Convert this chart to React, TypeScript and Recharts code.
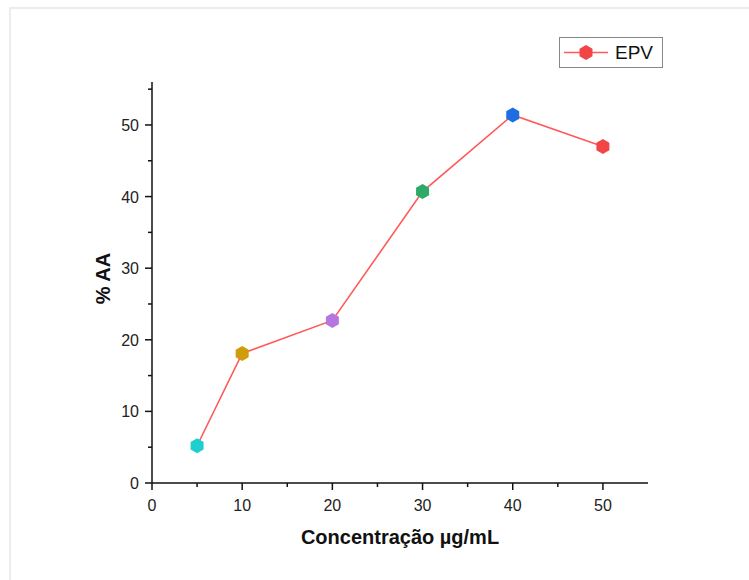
import { LineChart, Line, XAxis, YAxis, Label } from "recharts";

const concentrations = [5, 10, 20, 30, 40, 50];
const aaValues = [5.2, 18.1, 22.7, 40.7, 51.4, 47.0];
const pointColors = ["#1fcfcf", "#cf9d0a", "#b477e0", "#2fa968", "#1c6ee2", "#f24646"];
const xTicks = [0, 5, 10, 15, 20, 25, 30, 35, 40, 45, 50];
const yTicks = [0, 5, 10, 15, 20, 25, 30, 35, 40, 45, 50, 55];
const seriesName = "EPV";
const xTitle = "Concentração µg/mL";
const yTitle = "% AA";

const data = concentrations.map((c, i) => ({ x: c, y: aaValues[i] }));

const FONT = '"Liberation Sans", Arial, sans-serif';
const LINE_RED = "#ff5a5a";

const hexPoints = (cx: number, cy: number, r: number) => {
	const pts: string[] = [];
	for (let k = 0; k < 6; k++) {
		const a = (Math.PI / 3) * k - Math.PI / 2;
		pts.push(`${cx + r * Math.cos(a)},${cy + r * Math.sin(a)}`);
	}
	return pts.join(" ");
};

const HexDot = (props: any) => {
	const { cx, cy, index } = props;
	if (cx == null || cy == null) return <g key={`d${index}`} />;
	return (
		<polygon
			key={`d${index}`}
			points={hexPoints(cx, cy, 7.5)}
			fill={pointColors[index % pointColors.length]}
		/>
	);
};

// tickSize 6 + tickMargin 2 => axis line is 8px away from the tick anchor
const XTick = (props: any) => {
	const { x, y, payload } = props;
	const axisY = y - 8;
	const major = payload.value % 10 === 0;
	return (
		<g>
			<line x1={x} x2={x} y1={axisY} y2={axisY + (major ? 7 : 4)} stroke="#111" strokeWidth={1.5} />
			{major && (
				<text x={x} y={axisY + 28} textAnchor="middle" fontSize={16} fill="#222" fontFamily={FONT}>
					{payload.value}
				</text>
			)}
		</g>
	);
};

const YTick = (props: any) => {
	const { x, y, payload } = props;
	const axisX = x + 8;
	const major = payload.value % 10 === 0;
	return (
		<g>
			<line x1={axisX} x2={axisX - (major ? 7 : 4)} y1={y} y2={y} stroke="#111" strokeWidth={1.5} />
			{major && (
				<text x={axisX - 13} y={y + 6} textAnchor="end" fontSize={16} fill="#222" fontFamily={FONT}>
					{payload.value}
				</text>
			)}
		</g>
	);
};

const LegendBox = () => (
	<div
		style={{
			position: "absolute",
			left: 559,
			top: 37,
			width: 104,
			height: 31,
			border: "1px solid #888",
			boxSizing: "border-box",
			background: "#fff",
		}}
	>
		<svg width={104} height={31} style={{ position: "absolute", left: -1, top: -1 }}>
			<line x1={5} x2={49} y1={15.5} y2={15.5} stroke={LINE_RED} strokeWidth={1.5} />
			<polygon points={hexPoints(27, 15.5, 7.5)} fill="#f24646" />
			<text x={56} y={22} fontSize={19} fill="#111" fontFamily={FONT}>
				{seriesName}
			</text>
		</svg>
	</div>
);

export default function App() {
	return (
		<div style={{ position: "absolute", left: 0, top: 0, width: 749, height: 580, background: "#fff", overflow: "hidden" }}>
			<div
				style={{
					position: "absolute",
					left: 9,
					top: 7,
					width: 760,
					height: 600,
					borderTop: "2px solid #ececec",
					borderLeft: "2px solid #ececec",
				}}
			/>
			<LineChart
				width={749}
				height={580}
				data={data}
				margin={{ top: 82, right: 101, bottom: 67, left: 92 }}
				style={{ position: "absolute", left: 0, top: 0 }}
			>
				<XAxis
					dataKey="x"
					type="number"
					domain={[0, 55]}
					ticks={xTicks}
					interval={0}
					height={30}
					tickSize={6}
					tickMargin={2}
					tickLine={false}
					tick={<XTick />}
					axisLine={{ stroke: "#111", strokeWidth: 1.5 }}
				>
					<Label
						content={(p: any) => {
							const vb = p.viewBox;
							return (
								<text
									x={vb.x + vb.width / 2}
									y={vb.y + 61}
									textAnchor="middle"
									fontSize={20}
									fontWeight="bold"
									fill="#111"
									fontFamily={FONT}
								>
									{xTitle}
								</text>
							);
						}}
					/>
				</XAxis>
				<YAxis
					type="number"
					domain={[0, 56]}
					ticks={yTicks}
					interval={0}
					width={60}
					tickSize={6}
					tickMargin={2}
					tickLine={false}
					tick={<YTick />}
					axisLine={{ stroke: "#111", strokeWidth: 1.5 }}
				>
					<Label
						content={(p: any) => {
							const vb = p.viewBox;
							const cy = vb.y + vb.height / 2 - 4;
							return (
								<text
									x={110}
									y={cy}
									textAnchor="middle"
									fontSize={20}
									fontWeight="bold"
									fill="#111"
									fontFamily={FONT}
									transform={`rotate(-90 110 ${cy})`}
								>
									{yTitle}
								</text>
							);
						}}
					/>
				</YAxis>
				<Line
					dataKey="y"
					name={seriesName}
					type="linear"
					stroke={LINE_RED}
					strokeWidth={1.6}
					dot={HexDot}
					activeDot={false}
					isAnimationActive={false}
				/>
			</LineChart>
			<LegendBox />
		</div>
	);
}
